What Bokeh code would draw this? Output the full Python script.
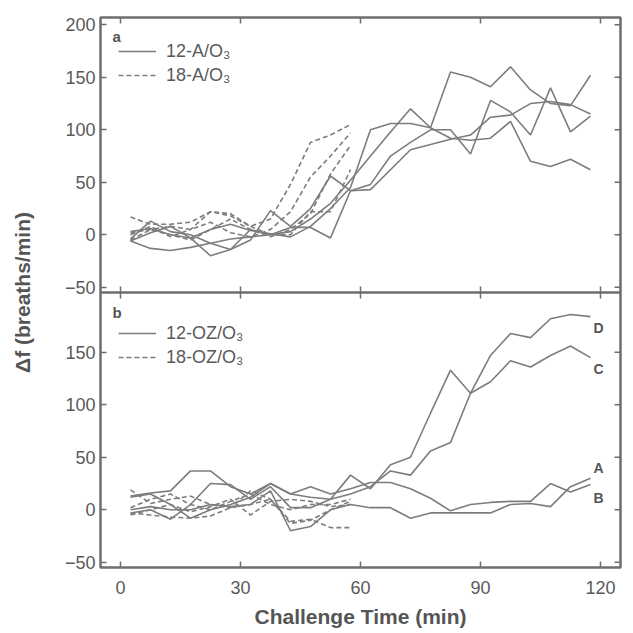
from bokeh.plotting import figure
from bokeh.models import Range1d, FixedTicker, Span, Legend, LegendItem, Label
from bokeh.embed import file_html
from bokeh.resources import INLINE

# ---------------- data ----------------
TIME_12 = [2.5, 7.5, 12.5, 17.5, 22.5, 27.5, 32.5, 37.5, 42.5, 47.5, 52.5, 57.5,
           62.5, 67.5, 72.5, 77.5, 82.5, 87.5, 92.5, 97.5, 102.5, 107.5, 112.5, 117.5]
TIME_18 = [2.5, 7.5, 12.5, 17.5, 22.5, 27.5, 32.5, 37.5, 42.5, 47.5, 52.5, 57.5]

# panel a : 12-A/O3 (solid)
A12_1 = [-6, -13, -15, -12, -8, -4, -2, 0, 3, 15, 30, 52, 75, 98, 120, 102, 155, 150, 141, 160, 138, 125, 123, 152]
A12_2 = [3, 6, 0, -3, 5, 10, 4, 1, -2, 8, 25, 45, 100, 106, 106, 102, 92, 90, 92, 108, 70, 65, 72, 62]
A12_3 = [-4, 13, 3, 0, -8, -14, -5, 23, 8, 25, 56, 42, 48, 75, 88, 100, 100, 77, 128, 117, 95, 140, 98, 113]
A12_4 = [-6, 2, 8, -3, -20, -14, 5, 0, 7, 7, -3, 42, 43, 62, 81, 86, 91, 95, 112, 114, 125, 127, 124, 115]
# panel a : 18-A/O3 (dashed)
A18_1 = [17, 10, 10, 12, 22, 18, 8, 15, 48, 88, 95, 105]
A18_2 = [2, 5, 8, 5, 12, 2, -2, 5, 22, 55, 75, 97]
A18_3 = [0, 8, -2, 5, 22, 20, 8, 0, 0, 22, 22, 62]
A18_4 = [-5, 5, 0, -5, 5, 15, 5, -2, 5, 20, 58, 85]

# panel b : 12-OZ/O3 (solid), animals A-D
OZ12_D = [13, 16, 18, 37, 37, 22, 15, 25, 15, 12, 10, 15, 22, 37, 33, 56, 64, 111, 147, 168, 164, 182, 186, 184]
OZ12_C = [-3, 0, -9, 5, 25, 24, 10, 22, 2, 2, 10, 33, 20, 43, 50, 92, 133, 111, 122, 142, 136, 147, 156, 145]
OZ12_B = [12, 15, 5, -8, 0, 5, 12, 25, 15, 22, 15, 20, 26, 26, 20, 11, -1, 5, 7, 8, 8, 25, 17, 24]
OZ12_A = [0, 3, 0, 0, 5, 3, 5, 18, -20, -16, 0, 5, 2, 2, -8, -3, -3, -3, -3, 5, 6, 3, 22, 30]
# panel b : 18-OZ/O3 (dashed)
OZ18_1 = [19, 6, 10, 13, 5, 2, 18, 10, -11, -9, -17, -17]
OZ18_2 = [-3, -5, -7, -8, -6, 2, 5, 10, -13, -10, 0, 8]
OZ18_3 = [2, 10, 15, 5, 0, 8, 15, 5, 0, 5, 5, 10]
OZ18_4 = [-5, 0, 5, -2, 3, 10, -5, 8, 10, 8, 3, 5]

END_LABELS = ["D", "C", "A", "B"]
END_LABEL_Y = [173, 134, 40, 11]

X_TICKS = [0, 30, 60, 90, 120]
TOP_Y_TICKS = [-50, 0, 50, 100, 150, 200]
BOT_Y_TICKS = [-50, 0, 50, 100, 150]

# ---------------- styling ----------------
X_MIN, X_MAX = -5, 125
Y_MIN, Y_MAX = -55, 207
SPAN = Y_MAX - Y_MIN          # height of one panel in data units
FRAME_W, FRAME_H = 520, 551   # frame size in px
LINE = "#7d7d7d"
FRAME = "#6e6e6e"
TXT = "#555555"
FONT = "Liberation Sans"
TICK_PX = 6

def lab(v):
    return str(v).replace("-", "\u2212")

p = figure(width=625, height=630, output_backend="svg", toolbar_location=None,
           x_range=Range1d(X_MIN, X_MAX), y_range=Range1d(Y_MIN, Y_MAX + SPAN),
           min_border_left=100, min_border_right=5, min_border_top=17, min_border_bottom=62)
p.extra_y_ranges = {"top": Range1d(Y_MIN - SPAN, Y_MAX)}
p.xgrid.visible = False
p.ygrid.visible = False
p.outline_line_color = FRAME
p.outline_line_width = 2.5
p.background_fill_color = "white"
p.border_fill_color = "white"

left_ticks = BOT_Y_TICKS + [t + SPAN for t in TOP_Y_TICKS]
overrides = {t: lab(t) for t in BOT_Y_TICKS}
overrides.update({t + SPAN: lab(t) for t in TOP_Y_TICKS})

def style_axis(ax):
    ax.axis_line_color = None
    ax.major_tick_line_color = FRAME
    ax.major_tick_line_width = 1.5
    ax.major_tick_in = TICK_PX
    ax.major_tick_out = 0
    ax.minor_tick_line_color = None
    ax.major_label_text_font = FONT
    ax.major_label_text_font_size = "18px"
    ax.major_label_text_color = "#5a5a5a"

# left axis
ya = p.yaxis[0]
ya.ticker = FixedTicker(ticks=left_ticks)
ya.major_label_overrides = overrides
style_axis(ya)
ya.major_label_standoff = 5
ya.axis_label = "\u0394f (breaths/min)"
ya.axis_label_text_font = FONT
ya.axis_label_text_font_style = "bold"
ya.axis_label_text_font_size = "21px"
ya.axis_label_text_color = TXT
ya.axis_label_standoff = 28

# bottom axis
xa = p.xaxis[0]
xa.ticker = FixedTicker(ticks=X_TICKS)
style_axis(xa)
xa.major_label_standoff = 13
xa.axis_label = "Challenge Time (min)"
xa.axis_label_text_font = FONT
xa.axis_label_text_font_style = "bold"
xa.axis_label_text_font_size = "21px"
xa.axis_label_text_color = TXT
xa.axis_label_standoff = 8

# inward ticks on right and top edges, and both ways on the middle border
ty = TICK_PX * (2 * SPAN) / FRAME_H
tx = TICK_PX * (X_MAX - X_MIN) / FRAME_W
top_edge = Y_MAX + SPAN
p.segment(x0=[X_MAX - tx] * len(left_ticks), x1=[X_MAX] * len(left_ticks),
          y0=left_ticks, y1=left_ticks, line_color=FRAME, line_width=1.5)
p.segment(x0=X_TICKS, x1=X_TICKS, y0=[top_edge - ty] * len(X_TICKS),
          y1=[top_edge] * len(X_TICKS), line_color=FRAME, line_width=1.5)
p.add_layout(Span(location=Y_MAX, dimension="width", line_color=FRAME, line_width=2.5))
p.segment(x0=X_TICKS, x1=X_TICKS, y0=[Y_MAX - ty] * len(X_TICKS),
          y1=[Y_MAX + ty] * len(X_TICKS), line_color=FRAME, line_width=1.5)

# ---------------- lines ----------------
def draw(xs, ys, dashed, rng=None):
    kw = dict(line_color=LINE, line_width=1.6)
    if dashed:
        kw["line_dash"] = "5 3"
    if rng:
        kw["y_range_name"] = rng
    return p.line(xs, ys, **kw)

top_solid = [draw(TIME_12, s, False, "top") for s in (A12_1, A12_2, A12_3, A12_4)]
top_dash = [draw(TIME_18, s, True, "top") for s in (A18_1, A18_2, A18_3, A18_4)]
bot_solid = [draw(TIME_12, s, False) for s in (OZ12_D, OZ12_C, OZ12_B, OZ12_A)]
bot_dash = [draw(TIME_18, s, True) for s in (OZ18_1, OZ18_2, OZ18_3, OZ18_4)]

# ---------------- legends ----------------
def make_legend(items, loc):
    return Legend(items=items, location=loc, background_fill_alpha=0, border_line_alpha=0,
                  label_text_font=FONT, label_text_font_size="18px", label_text_color="#5a5a5a",
                  glyph_width=38, glyph_height=24, label_height=24, label_standoff=10,
                  spacing=0, padding=0, margin=0)

p.add_layout(make_legend([LegendItem(label="12-A/O\u2083", renderers=[top_solid[0]]),
                          LegendItem(label="18-A/O\u2083", renderers=[top_dash[0]])], (18, 480)))
p.add_layout(make_legend([LegendItem(label="12-OZ/O\u2083", renderers=[bot_solid[0]]),
                          LegendItem(label="18-OZ/O\u2083", renderers=[bot_dash[0]])], (18, 198)))

# panel letters
p.add_layout(Label(x=-2, y=189, text="a", y_range_name="top", text_font=FONT, text_font_style="bold",
                   text_font_size="15px", text_color=TXT, text_baseline="middle"))
p.add_layout(Label(x=-2, y=188, text="b", text_font=FONT, text_font_style="bold",
                   text_font_size="15px", text_color=TXT, text_baseline="middle"))

# end labels in panel b
for t, yv in zip(END_LABELS, END_LABEL_Y):
    p.add_layout(Label(x=119.5, y=yv, text=t, text_font=FONT, text_font_style="bold",
                       text_font_size="14px", text_color=TXT, text_align="center",
                       text_baseline="middle"))

open("out.html", "w").write(file_html(p, INLINE))
